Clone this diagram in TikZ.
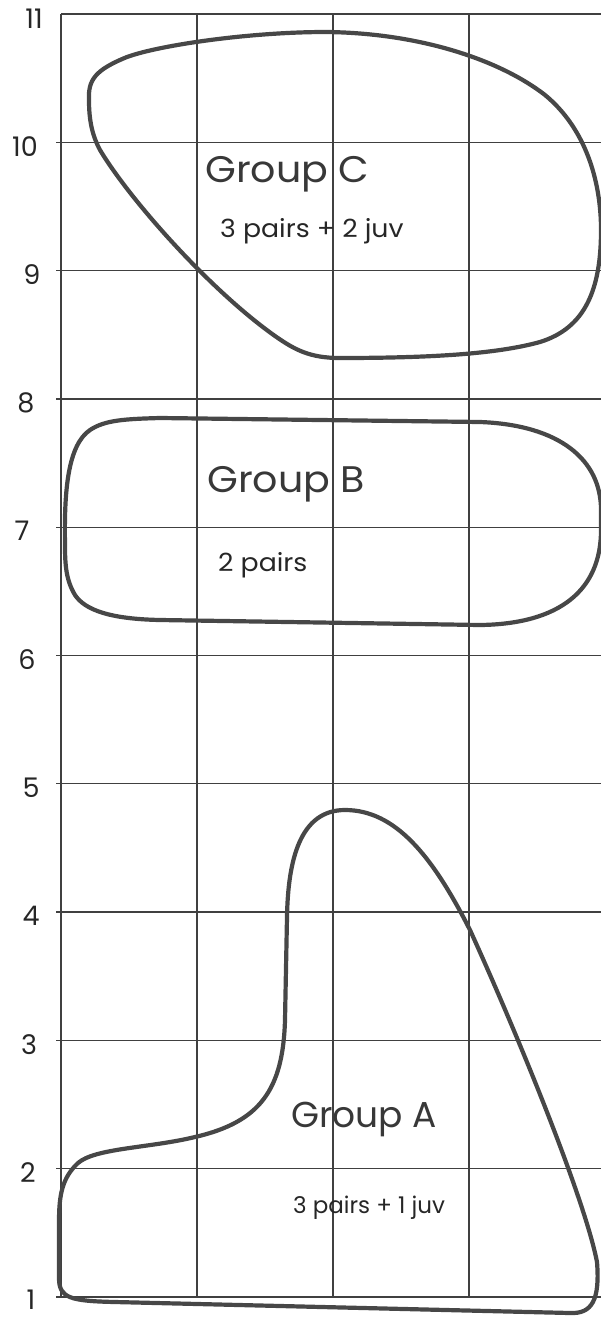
\documentclass[tikz,border=0pt]{standalone}
\usepackage{fontspec}
\setmainfont{Poppins}
\newfontfamily\widefont[FakeStretch=1.07]{Poppins}
\begin{document}
\begin{tikzpicture}[x=1pt,y=-1pt,
  gridline/.style={draw=black!75,line width=1.3pt},
  blob/.style={draw=black!72,line width=4.2pt,line join=round},
  axislabel/.style={text=black!85,inner sep=0pt,anchor=base,font=\fontsize{27}{30}\selectfont},
  bigtext/.style={text=black!78,inner sep=0pt,anchor=base west,font=\widefont\fontsize{37}{40}\selectfont},
  smalltext/.style={text=black!85,inner sep=0pt,anchor=base west,font=\widefont\fontsize{25}{28}\selectfont}]
\useasboundingbox (0,0) rectangle (601,1317);
\begin{scope}
\clip (0,0) rectangle (601,1317);
% grid
\draw[gridline] (61,14) -- (601,14);
\foreach \k in {1,...,10}{
  \draw[gridline] (56,{14+128.3*\k}) -- (601,{14+128.3*\k});
}
\foreach \xx in {61,197,333,469}{
  \draw[gridline] (\xx,14) -- (\xx,1297);
}
% axis labels
\node[axislabel] (l11) at (34,28) {11};
\node[axislabel] (l10) at (25,156) {10};
\node[axislabel] (l9) at (32,284) {9};
\node[axislabel] (l8) at (26,412) {8};
\node[axislabel] (l7) at (22,540) {7};
\node[axislabel] (l6) at (27,669) {6};
\node[axislabel] (l5) at (31,797) {5};
\node[axislabel] (l4) at (31,925) {4};
\node[axislabel] (l3) at (29,1054) {3};
\node[axislabel] (l2) at (28,1182) {2};
\node[axislabel] (l1) at (31,1309) {1};
% Group C
\draw[blob] (89,100) .. controls (88,80) and (95,70) .. (127,57)
  .. controls (160,45) and (250,32) .. (326,32)
  .. controls (420,33) and (500,60) .. (545,95)
  .. controls (585,128) and (601,180) .. (601,230)
  .. controls (601,290) and (585,328) .. (540,342)
  .. controls (500,353) and (440,358) .. (340,358)
  .. controls (310,358) and (295,350) .. (275,336)
  .. controls (210,290) and (130,200) .. (100,150)
  .. controls (92,135) and (89,120) .. (89,100) -- cycle;
% Group B
\draw[blob] (65,545) .. controls (64,490) and (68,445) .. (90,430)
  .. controls (105,420) and (125,419) .. (160,418) -- (480,422)
  .. controls (560,425) and (601,460) .. (601,510) -- (601,530)
  .. controls (601,590) and (560,624) .. (480,625) -- (160,620)
  .. controls (110,619) and (85,610) .. (75,595)
  .. controls (66,580) and (65,565) .. (65,545) -- cycle;
% Group A
\draw[blob] (345,810) .. controls (300,810) and (288,860) .. (287,917)
  -- (285,1020) .. controls (283,1090) and (260,1122) .. (195,1137)
  .. controls (150,1148) and (95,1148) .. (78,1163)
  .. controls (62,1178) and (59,1195) .. (59,1222) -- (59,1278)
  .. controls (59,1298) and (70,1301) .. (115,1302) -- (570,1313)
  .. controls (592,1314) and (600,1300) .. (597,1262)
  .. controls (585,1200) and (520,1040) .. (470,930)
  .. controls (432,855) and (395,810) .. (345,810) -- cycle;
\end{scope}
% texts
\node[bigtext] (gc) at (205,182) {Group C};
\node[smalltext] (gcs) at (220,237) {3 pairs + 2 juv};
\node[bigtext] (gb) at (207,492) {Group B};
\node[smalltext] (gbs) at (218,571) {2 pairs};
\node[bigtext,font=\fontsize{36}{40}\selectfont] (ga) at (291,1127) {Group A};
\node[smalltext,font=\fontsize{23}{26}\selectfont] (gas) at (293,1213) {3 pairs + 1 juv};
\end{tikzpicture}
\end{document}
